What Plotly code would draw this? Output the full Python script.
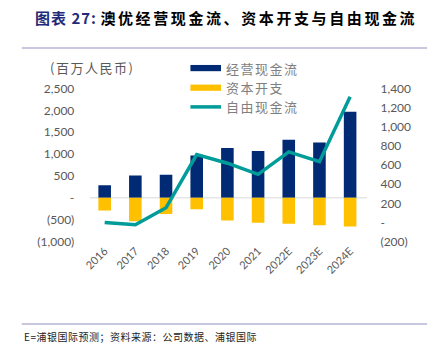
import plotly.graph_objects as go

years = ["2016", "2017", "2018", "2019", "2020", "2021", "2022E", "2023E", "2024E"]
ocf = [290, 510, 525, 970, 1137, 1072, 1328, 1262, 1969]
capex = [-290, -533, -372, -262, -518, -569, -591, -627, -656]
fcf = [0, -23, 153, 708, 619, 503, 737, 635, 1313]

left_ticks = [-1000, -500, 0, 500, 1000, 1500, 2000, 2500]
left_text = ["(1,000)", "(500)", "-", "500", "1,000", "1,500", "2,000", "2,500"]
right_ticks = [-200, 0, 200, 400, 600, 800, 1000, 1200, 1400]
right_text = ["(200)", "-", "200", "400", "600", "800", "1,000", "1,200", "1,400"]

NAVY = "#002A73"
YELLOW = "#FFC000"
TEAL = "#009C99"
W, H = 434, 352

def px(x):
    return x / W

def py(y):
    return 1 - y / H

fig = go.Figure()
fig.add_trace(go.Bar(x=years, y=ocf, marker=dict(color=NAVY, line=dict(width=0)),
                     name="经营现金流", yaxis="y", offsetgroup="a", width=0.41))
fig.add_trace(go.Bar(x=years, y=capex, marker=dict(color=YELLOW, line=dict(width=0)),
                     name="资本开支", yaxis="y", offsetgroup="a", width=0.41))
fig.add_trace(go.Scatter(x=years, y=fcf, mode="lines", line=dict(color=TEAL, width=3.5),
                         name="自由现金流", yaxis="y2"))

tickfont = dict(family="Lato, Liberation Sans, sans-serif", size=12, color="#595959")

fig.update_layout(
    width=W, height=H, autosize=False,
    margin=dict(l=0, r=0, t=0, b=0),
    paper_bgcolor="white", plot_bgcolor="white",
    barmode="relative",
    showlegend=False,
    xaxis=dict(domain=[px(84.5), px(364.5)], showgrid=False, showline=False, zeroline=False,
               tickangle=-45, tickfont=dict(family="Lato, Liberation Sans, sans-serif", size=11, color="#595959"),
               ticks="", type="category"),
    yaxis=dict(domain=[py(244), py(84)], range=[-1000, 2500], tickvals=left_ticks, ticktext=left_text,
               showgrid=False, zeroline=False, showline=False, tickfont=tickfont, ticks="",
               ticklabelstandoff=14),
    yaxis2=dict(overlaying="y", side="right", range=[-200, 1400], tickvals=right_ticks, ticktext=right_text,
                showgrid=False, zeroline=False, showline=False, tickfont=tickfont, ticks="",
                ticklabelstandoff=14),
)

shapes = [
    dict(type="line", xref="paper", yref="y", x0=px(85), x1=px(366), y0=0, y1=0,
         line=dict(color="#D9D9D9", width=1), layer="below"),
    dict(type="line", xref="paper", yref="paper", x0=px(16), x1=px(427), y0=py(41.7), y1=py(41.7),
         line=dict(color="#B4B4D4", width=1.5)),
    dict(type="line", xref="paper", yref="paper", x0=px(16), x1=px(427), y0=py(330), y1=py(330),
         line=dict(color="#B4B4D4", width=1.5)),
    dict(type="rect", xref="paper", yref="paper", x0=px(187), x1=px(218), y0=py(66), y1=py(59.5),
         fillcolor=NAVY, line=dict(width=0)),
    dict(type="rect", xref="paper", yref="paper", x0=px(187), x1=px(218), y0=py(86.5), y1=py(80),
         fillcolor=YELLOW, line=dict(width=0)),
    dict(type="line", xref="paper", yref="paper", x0=px(187), x1=px(218), y0=py(103.3), y1=py(103.3),
         line=dict(color=TEAL, width=3.5)),
]
fig.update_layout(shapes=shapes)

cjk = "Noto Sans CJK SC, sans-serif"
legfont = dict(family=cjk, size=13, color="#7F7F7F")

def spaced(s, sp):
    return f"<span style='letter-spacing:{sp}px'>{s}</span>"

annotations = [
    dict(text="<b><span style='color:#1F2A7A;letter-spacing:1px'>图表 27:</span> "
              "<span style='letter-spacing:2.6px'>澳优经营现金流、资本开支与自由现金流</span></b>",
         xref="paper", yref="paper", x=px(27), y=py(10), xanchor="left", yanchor="middle",
         showarrow=False, font=dict(family=cjk, size=15, color="#000000")),
    dict(text=spaced("(百万人民币)", 1.5), xref="paper", yref="paper", x=px(43), y=py(62), xanchor="left",
         yanchor="middle", showarrow=False, font=dict(family=cjk, size=13, color="#595959")),
    dict(text=spaced("经营现金流", 1.5), xref="paper", yref="paper", x=px(221), y=py(63), xanchor="left",
         yanchor="middle", showarrow=False, font=legfont),
    dict(text=spaced("资本开支", 1.5), xref="paper", yref="paper", x=px(221), y=py(83), xanchor="left",
         yanchor="middle", showarrow=False, font=legfont),
    dict(text=spaced("自由现金流", 1.5), xref="paper", yref="paper", x=px(221), y=py(103), xanchor="left",
         yanchor="middle", showarrow=False, font=legfont),
    dict(text=spaced("E=浦银国际预测；资料来源：公司数据、浦银国际", 0.5), xref="paper", yref="paper",
         x=px(16), y=py(343), xanchor="left", yanchor="middle", showarrow=False,
         font=dict(family=cjk, size=10, color="#222222")),
]
fig.update_layout(annotations=annotations)

fig.write_html("out.html")
